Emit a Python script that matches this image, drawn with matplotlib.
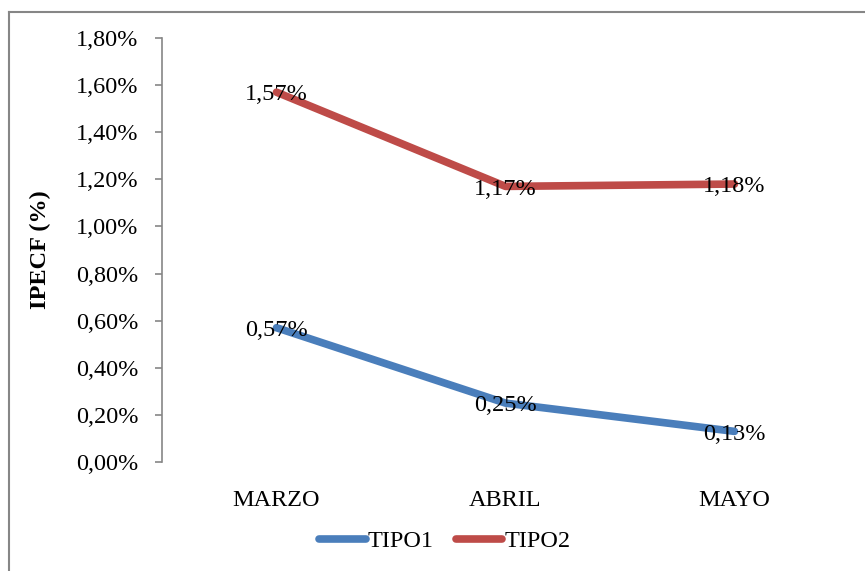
import matplotlib
matplotlib.use("Agg")
import matplotlib.pyplot as plt
from matplotlib import ticker
from matplotlib.lines import Line2D

FONT = "Liberation Serif"
FONT_SIZE = 17.5

months = ["MARZO", "ABRIL", "MAYO"]
tipo1 = [0.57, 0.25, 0.13]
tipo2 = [1.57, 1.17, 1.18]
y_ticks = [0.0, 0.2, 0.4, 0.6, 0.8, 1.0, 1.2, 1.4, 1.6, 1.8]

BLUE = "#4A7EBB"
RED = "#BE4B48"
GREY = "#868686"

plt.rcParams["font.family"] = [FONT, "DejaVu Serif"]


@ticker.FuncFormatter
def pct_formatter(x, pos):
    # spanish style: comma as decimal separator
    return f"{x:.2f}%".replace(".", ",")


fig = plt.figure(figsize=(8.65, 5.71), dpi=100)
ax = fig.add_axes([162 / 865, 1 - 462 / 571, (849 - 162) / 865, (462 - 38) / 571])

xs = list(range(len(months)))
ax.plot(xs, tipo1, c=BLUE, lw=5.5, solid_capstyle="round", label="TIPO1")
ax.plot(xs, tipo2, c=RED, lw=5.5, solid_capstyle="round", label="TIPO2")

# data labels centered on each point, a hair below
for series in (tipo1, tipo2):
    for x, v in zip(xs, series):
        ax.annotate(f"{v:.2f}%".replace(".", ","), (x, v), xytext=(0, -2),
                    textcoords="offset points", ha="center", va="center",
                    fontsize=FONT_SIZE, color="black")

ax.set_xlim(-0.5, len(months) - 0.5)
ax.set_ylim(y_ticks[0], y_ticks[-1])
ax.set_yticks(y_ticks)
ax.yaxis.set_major_formatter(pct_formatter)
ax.set_xticks(xs)
ax.set_xticklabels(months)

for side in ("top", "right", "bottom"):
    ax.spines[side].set_visible(False)
ax.spines["left"].set_color(GREY)
ax.spines["left"].set_linewidth(1.2)
ax.tick_params(axis="y", length=5, width=1.2, color=GREY, pad=12, labelsize=FONT_SIZE)
ax.tick_params(axis="x", length=0, pad=20, labelsize=FONT_SIZE)

fig.text(40 / 865, 1 - 250 / 571, "IPECF (%)", rotation=90, ha="center", va="center",
         fontsize=FONT_SIZE, fontweight="bold")

# legend at the bottom
handles = [Line2D([], [], c=BLUE, lw=5.5, solid_capstyle="round"),
           Line2D([], [], c=RED, lw=5.5, solid_capstyle="round")]
fig.legend(handles, ["TIPO1", "TIPO2"], loc="center", ncol=2, frameon=False,
           bbox_to_anchor=(445 / 865, 1 - 541 / 571), fontsize=FONT_SIZE,
           handlelength=1.9, handletextpad=0.1, columnspacing=0.9)

# chart border, only top and left edges are visible in the crop
fig.add_artist(Line2D([8.5 / 865, 8.5 / 865], [0, 1 - 12 / 571], transform=fig.transFigure,
                      c=GREY, lw=1.5))
fig.add_artist(Line2D([8.5 / 865, 1], [1 - 12 / 571, 1 - 12 / 571], transform=fig.transFigure,
                      c=GREY, lw=1.5))

fig.savefig("out.png", dpi=100)
